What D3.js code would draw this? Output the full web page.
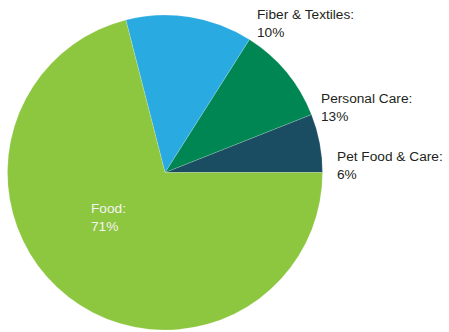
<!DOCTYPE html>
<html>
<head>
<meta charset="utf-8">
<script src="https://cdn.jsdelivr.net/npm/d3@7"></script>
<style>
  html, body { margin: 0; padding: 0; background: #fff; }
  #pie-chart { width: 449px; height: 332px; }
</style>
</head>
<body>
<div id="pie-chart"></div>
<script>
// Pie chart of product shares, slices run counter-clockwise from 3 o'clock

const categories = ["Pet Food & Care", "Fiber & Textiles", "Personal Care", "Food"];
const shares = [6, 10, 13, 71];
const sliceColors = ["#1b4d62", "#008652", "#29aae1", "#8dc63f"];

// label placement (left x, first baseline), kept apart from the data
const labelLayout = {
  "Pet Food & Care": { x: 337, y: 161, fill: "#231f20" },
  "Personal Care": { x: 321, y: 103, fill: "#231f20" },
  "Fiber & Textiles": { x: 257, y: 19, fill: "#231f20" },
  "Food": { x: 91, y: 213, fill: "#f4f4f4" }
};

const width = 449, height = 332;
const cx = 165, cy = 172.5, radius = 157.5;

const pieData = categories.map((c, i) => ({ name: c, value: shares[i], color: sliceColors[i] }));

const svg = d3.select("#pie-chart")
  .append("svg")
  .attr("width", width)
  .attr("height", height);

const g = svg.append("g")
  .attr("transform", `translate(${cx},${cy})`);

const pie = d3.pie()
  .sort(null)
  .value(d => d.value)
  .startAngle(Math.PI / 2)
  .endAngle(Math.PI / 2 - 2 * Math.PI);

const arc = d3.arc()
  .innerRadius(0)
  .outerRadius(radius);

g.selectAll(".slice")
  .data(pie(pieData))
  .join("path")
  .attr("class", "slice")
  .attr("d", arc)
  .attr("fill", d => d.data.color)
  .attr("stroke", "#ffffff")
  .attr("stroke-opacity", 0.35)
  .attr("stroke-width", 0.5);

const labels = svg.selectAll(".slice-label")
  .data(pieData)
  .join("text")
  .attr("class", "slice-label")
  .style("font-family", "'Liberation Sans', Arial, sans-serif")
  .style("font-size", "13.7px")
  .attr("fill", d => labelLayout[d.name].fill);

labels.append("tspan")
  .attr("x", d => labelLayout[d.name].x)
  .attr("y", d => labelLayout[d.name].y)
  .text(d => d.name + ":");

// the reference prints these two shares swapped against their slices
const printedShare = { "Personal Care": 13, "Fiber & Textiles": 10 };

labels.append("tspan")
  .attr("x", d => labelLayout[d.name].x)
  .attr("dy", 17.5)
  .text(d => (printedShare[d.name] != null ? printedShare[d.name] : d.value) + "%");
</script>
</body>
</html>
